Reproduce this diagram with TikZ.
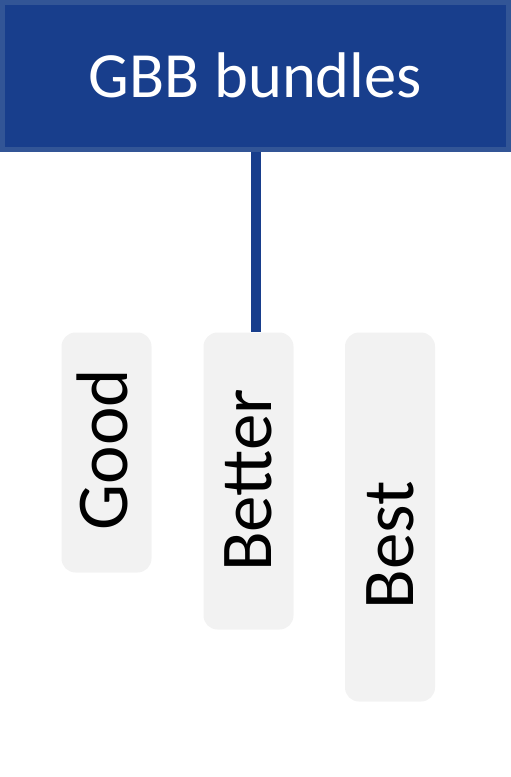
\documentclass[tikz,border=0pt]{standalone}
\usepackage{fontspec}
\setmainfont{Carlito}
\definecolor{hdrfill}{HTML}{183E8C}
\definecolor{hdrline}{HTML}{325596}
\definecolor{boxgray}{HTML}{F2F2F2}
\begin{document}
\begin{tikzpicture}[x=1pt,y=-1pt,
  tierbox/.style={fill=boxgray,draw=none,rounded corners=14pt,inner sep=0pt,minimum width=90pt},
  tierlabel/.style={rotate=90,anchor=base,inner sep=0pt,font=\fontsize{73}{80}\selectfont,text=black},
  link/.style={draw=hdrfill,line width=10pt}]
\useasboundingbox (0,0) rectangle (511,777);
\node[fill=hdrfill,draw=hdrline,line width=5pt,minimum width=506pt,minimum height=147pt,inner sep=0pt] (hdr) at (255.5,76) {};
\node[anchor=base,inner sep=0pt,text=white,font=\fontsize{64.5}{72}\selectfont] (title) at (255.5,97) {GBB bundles};
\node[tierbox,minimum height=240pt] (good) at (106.5,452.5) {};
\node[tierbox,minimum height=297pt] (better) at (248.5,481) {};
\node[tierbox,minimum height=369pt] (best) at (390,517) {};
\draw[link] (hdr.south) -- (hdr.south |- better.north);
\node[tierlabel] (goodt) at (127.5,449.5) {Good};
\node[tierlabel] (bettert) at (271,480.5) {Better};
\node[tierlabel] (bestt) at (413.5,545.5) {Best};
\end{tikzpicture}
\end{document}
